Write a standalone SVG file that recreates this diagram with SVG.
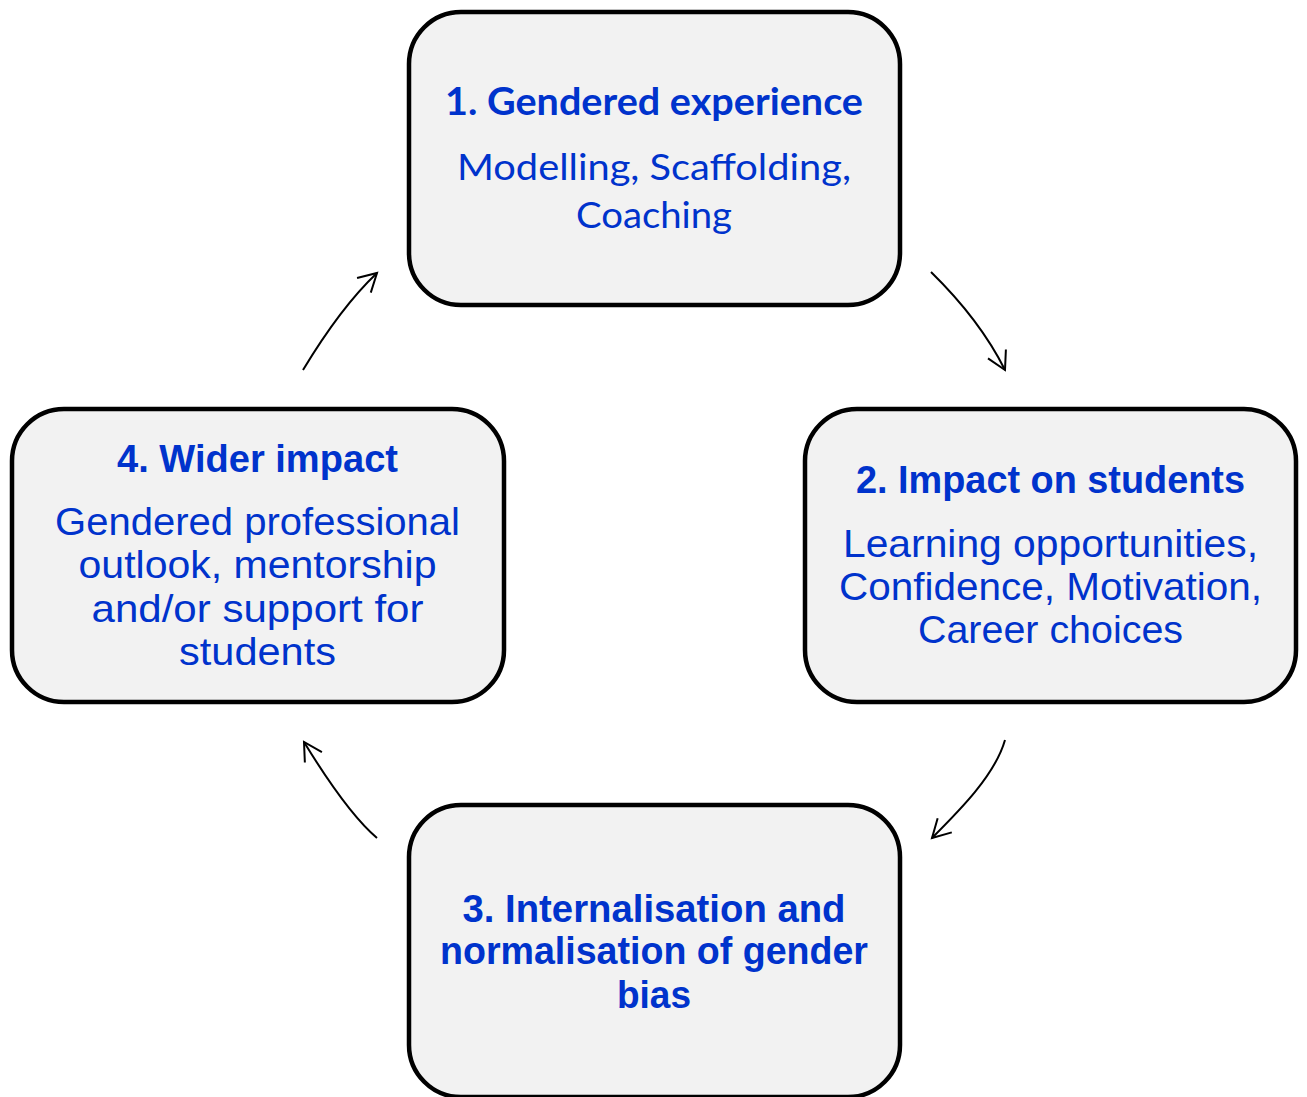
<svg xmlns="http://www.w3.org/2000/svg" width="1307" height="1097" viewBox="0 0 1307 1097">
<style>
.box{fill:#F2F2F2;stroke:#000;stroke-width:4.5}
.t{fill:#0033CC;text-anchor:middle}
.cal{font-family:Lato,"Open Sans",sans-serif}
.ar{font-family:"Liberation Sans",Arial,sans-serif}
.b{font-weight:bold}
.conn{fill:none;stroke:#000;stroke-width:2}
</style>
<defs>
<marker id="ah" markerUnits="userSpaceOnUse" markerWidth="40" markerHeight="40" viewBox="-20 -20 40 40" refX="0" refY="0" orient="auto">
<path d="M -18,-10 L 0,0 L -18,10" fill="none" stroke="#000" stroke-width="2"/>
</marker>
</defs>
<rect width="1307" height="1097" fill="#fff"/>
<g id="node1">
<rect class="box" x="409" y="12" width="491" height="293" rx="52"/>
<text class="t cal b" x="654" y="115" font-size="38" textLength="418" lengthAdjust="spacingAndGlyphs">1. Gendered experience</text>
<text class="t cal" x="654" y="180" font-size="36" textLength="394" lengthAdjust="spacingAndGlyphs">Modelling, Scaffolding,</text>
<text class="t cal" x="654" y="228" font-size="36" textLength="156" lengthAdjust="spacingAndGlyphs">Coaching</text>
</g>
<g id="node2">
<rect class="box" x="805" y="409" width="491" height="293" rx="52"/>
<text class="t ar b" x="1050.5" y="493" font-size="38" textLength="389" lengthAdjust="spacingAndGlyphs">2. Impact on students</text>
<text class="t ar" x="1050.5" y="557" font-size="39" textLength="415" lengthAdjust="spacingAndGlyphs">Learning opportunities,</text>
<text class="t ar" x="1050.5" y="600" font-size="39" textLength="423" lengthAdjust="spacingAndGlyphs">Confidence, Motivation,</text>
<text class="t ar" x="1050.5" y="643" font-size="39" textLength="265" lengthAdjust="spacingAndGlyphs">Career choices</text>
</g>
<g id="node3">
<rect class="box" x="409" y="805" width="491" height="292" rx="52"/>
<text class="t ar b" x="654" y="922" font-size="39" textLength="383" lengthAdjust="spacingAndGlyphs">3. Internalisation and</text>
<text class="t ar b" x="654" y="964" font-size="39" textLength="428" lengthAdjust="spacingAndGlyphs">normalisation of gender</text>
<text class="t ar b" x="654" y="1008" font-size="39" textLength="74" lengthAdjust="spacingAndGlyphs">bias</text>
</g>
<g id="node4">
<rect class="box" x="12" y="409" width="492" height="293" rx="52"/>
<text class="t ar b" x="257.5" y="472" font-size="39" textLength="281" lengthAdjust="spacingAndGlyphs">4. Wider impact</text>
<text class="t ar" x="257.5" y="535" font-size="39" textLength="405" lengthAdjust="spacingAndGlyphs">Gendered professional</text>
<text class="t ar" x="257.5" y="578" font-size="39" textLength="358" lengthAdjust="spacingAndGlyphs">outlook, mentorship</text>
<text class="t ar" x="257.5" y="622" font-size="39" textLength="332" lengthAdjust="spacingAndGlyphs">and/or support for</text>
<text class="t ar" x="257.5" y="665" font-size="39" textLength="157" lengthAdjust="spacingAndGlyphs">students</text>
</g>
<g id="connectors">
<path class="conn" d="M 931,272 Q 980,320 1005,370" marker-end="url(#ah)"/>
<path class="conn" d="M 1005,740 C 995,775 960,810 932,838" marker-end="url(#ah)"/>
<path class="conn" d="M 377,838 C 350,815 319.6,767.5 304,742" marker-end="url(#ah)"/>
<path class="conn" d="M 303,370 Q 341,307 377,273" marker-end="url(#ah)"/>
</g>
</svg>
